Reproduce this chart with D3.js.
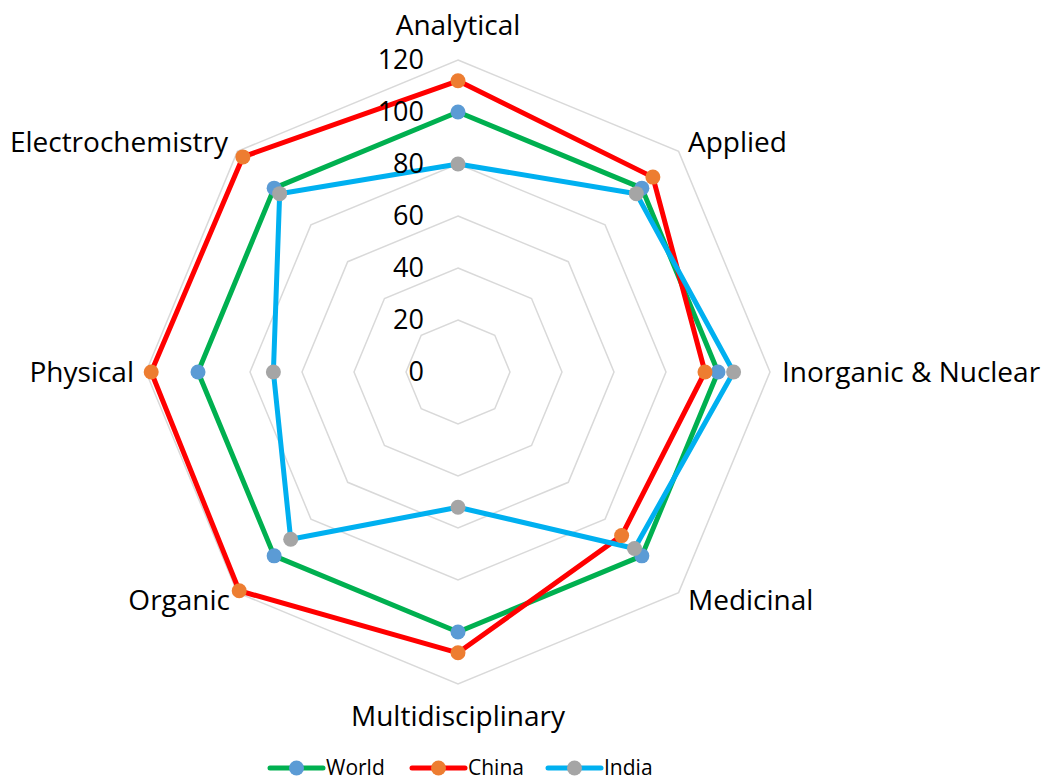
<!DOCTYPE html>
<meta charset="utf-8">
<style>
body { margin: 0; background: #fff; }
text { font-family: "Open Sans", "Liberation Sans", sans-serif; fill: #000; }
</style>
<svg></svg>
<script src="https://d3js.org/d3.v7.min.js"></script>
<script>

var width = 1045, height = 780;

var categories = ["Analytical", "Applied", "Inorganic & Nuclear", "Medicinal",
                  "Multidisciplinary", "Organic", "Physical", "Electrochemistry"];
var world = [100, 100, 100, 100, 100, 100, 100, 100];
var china = [112, 106, 95, 89, 108, 119, 118, 117];
var india = [80, 97, 106, 96, 52, 91, 71, 97];
var ticks = [0, 20, 40, 60, 80, 100, 120];

var series = [
  {name: "World", values: world, line: "#00b050", marker: "#5b9bd5"},
  {name: "China", values: china, line: "#ff0000", marker: "#ed7d31"},
  {name: "India", values: india, line: "#00b0f0", marker: "#a5a5a5"}
];

var cx = 458, cy = 372;

var r = d3.scaleLinear().domain([0, 120]).range([0, 312]);
var angle = d3.scalePoint().domain(categories.concat(["_end"])).range([0, 2 * Math.PI]);

function pt(cat, v) {
  var a = angle(cat);
  return [cx + r(v) * Math.sin(a), cy - r(v) * Math.cos(a)];
}

var svg = d3.select("svg")
    .attr("width", width)
    .attr("height", height);

var line = d3.line();

// grid rings
svg.append("g").selectAll("path")
  .data(ticks.slice(1))
  .enter().append("path")
  .attr("d", function(t) {
    return line(categories.map(function(c) { return pt(c, t); })) + "Z";
  })
  .attr("fill", "none")
  .attr("stroke", "#d9d9d9")
  .attr("stroke-width", 1.5);

// series
var g = svg.append("g");
series.forEach(function(s) {
  var pts = categories.map(function(c, i) { return pt(c, s.values[i]); });
  g.append("path")
    .attr("d", line(pts) + "Z")
    .attr("fill", "none")
    .attr("stroke", s.line)
    .attr("stroke-width", 5)
    .attr("stroke-linejoin", "round");
});
series.forEach(function(s) {
  var pts = categories.map(function(c, i) { return pt(c, s.values[i]); });
  g.selectAll(null)
    .data(pts)
    .enter().append("circle")
    .attr("cx", function(d) { return d[0]; })
    .attr("cy", function(d) { return d[1]; })
    .attr("r", 7.5)
    .attr("fill", s.marker);
});

// tick labels
svg.append("g").selectAll("text")
  .data(ticks)
  .enter().append("text")
  .attr("x", cx - 34)
  .attr("y", function(t) { return cy - r(t); })
  .attr("dy", "0.35em")
  .attr("text-anchor", "end")
  .style("font-size", "27px")
  .text(function(t) { return t; });

// category labels
var labelPos = {
  "Analytical": [458, 25, "middle"],
  "Applied": [688, 142, "start"],
  "Inorganic & Nuclear": [782, 372, "start"],
  "Medicinal": [688, 600, "start"],
  "Multidisciplinary": [458, 716, "middle"],
  "Organic": [230, 600, "end"],
  "Physical": [134, 372, "end"],
  "Electrochemistry": [228, 142, "end"]
};
svg.append("g").selectAll("text")
  .data(categories)
  .enter().append("text")
  .attr("x", function(c) { return labelPos[c][0]; })
  .attr("y", function(c) { return labelPos[c][1]; })
  .attr("dy", "0.35em")
  .attr("text-anchor", function(c) { return labelPos[c][2]; })
  .style("font-size", "28px")
  .text(function(c) { return c; });

// legend
var legendX = [270, 412, 548];
var leg = svg.append("g").selectAll("g")
  .data(series)
  .enter().append("g")
  .attr("transform", function(d, i) { return "translate(" + legendX[i] + ",768)"; });
leg.append("line")
  .attr("x1", 0).attr("x2", 53)
  .attr("stroke", function(d) { return d.line; })
  .attr("stroke-width", 5)
  .attr("stroke-linecap", "round");
leg.append("circle")
  .attr("cx", 26.5).attr("r", 7.5)
  .attr("fill", function(d) { return d.marker; });
leg.append("text")
  .attr("x", 56)
  .attr("dy", "0.35em")
  .style("font-size", "21px")
  .text(function(d) { return d.name; });

</script>
